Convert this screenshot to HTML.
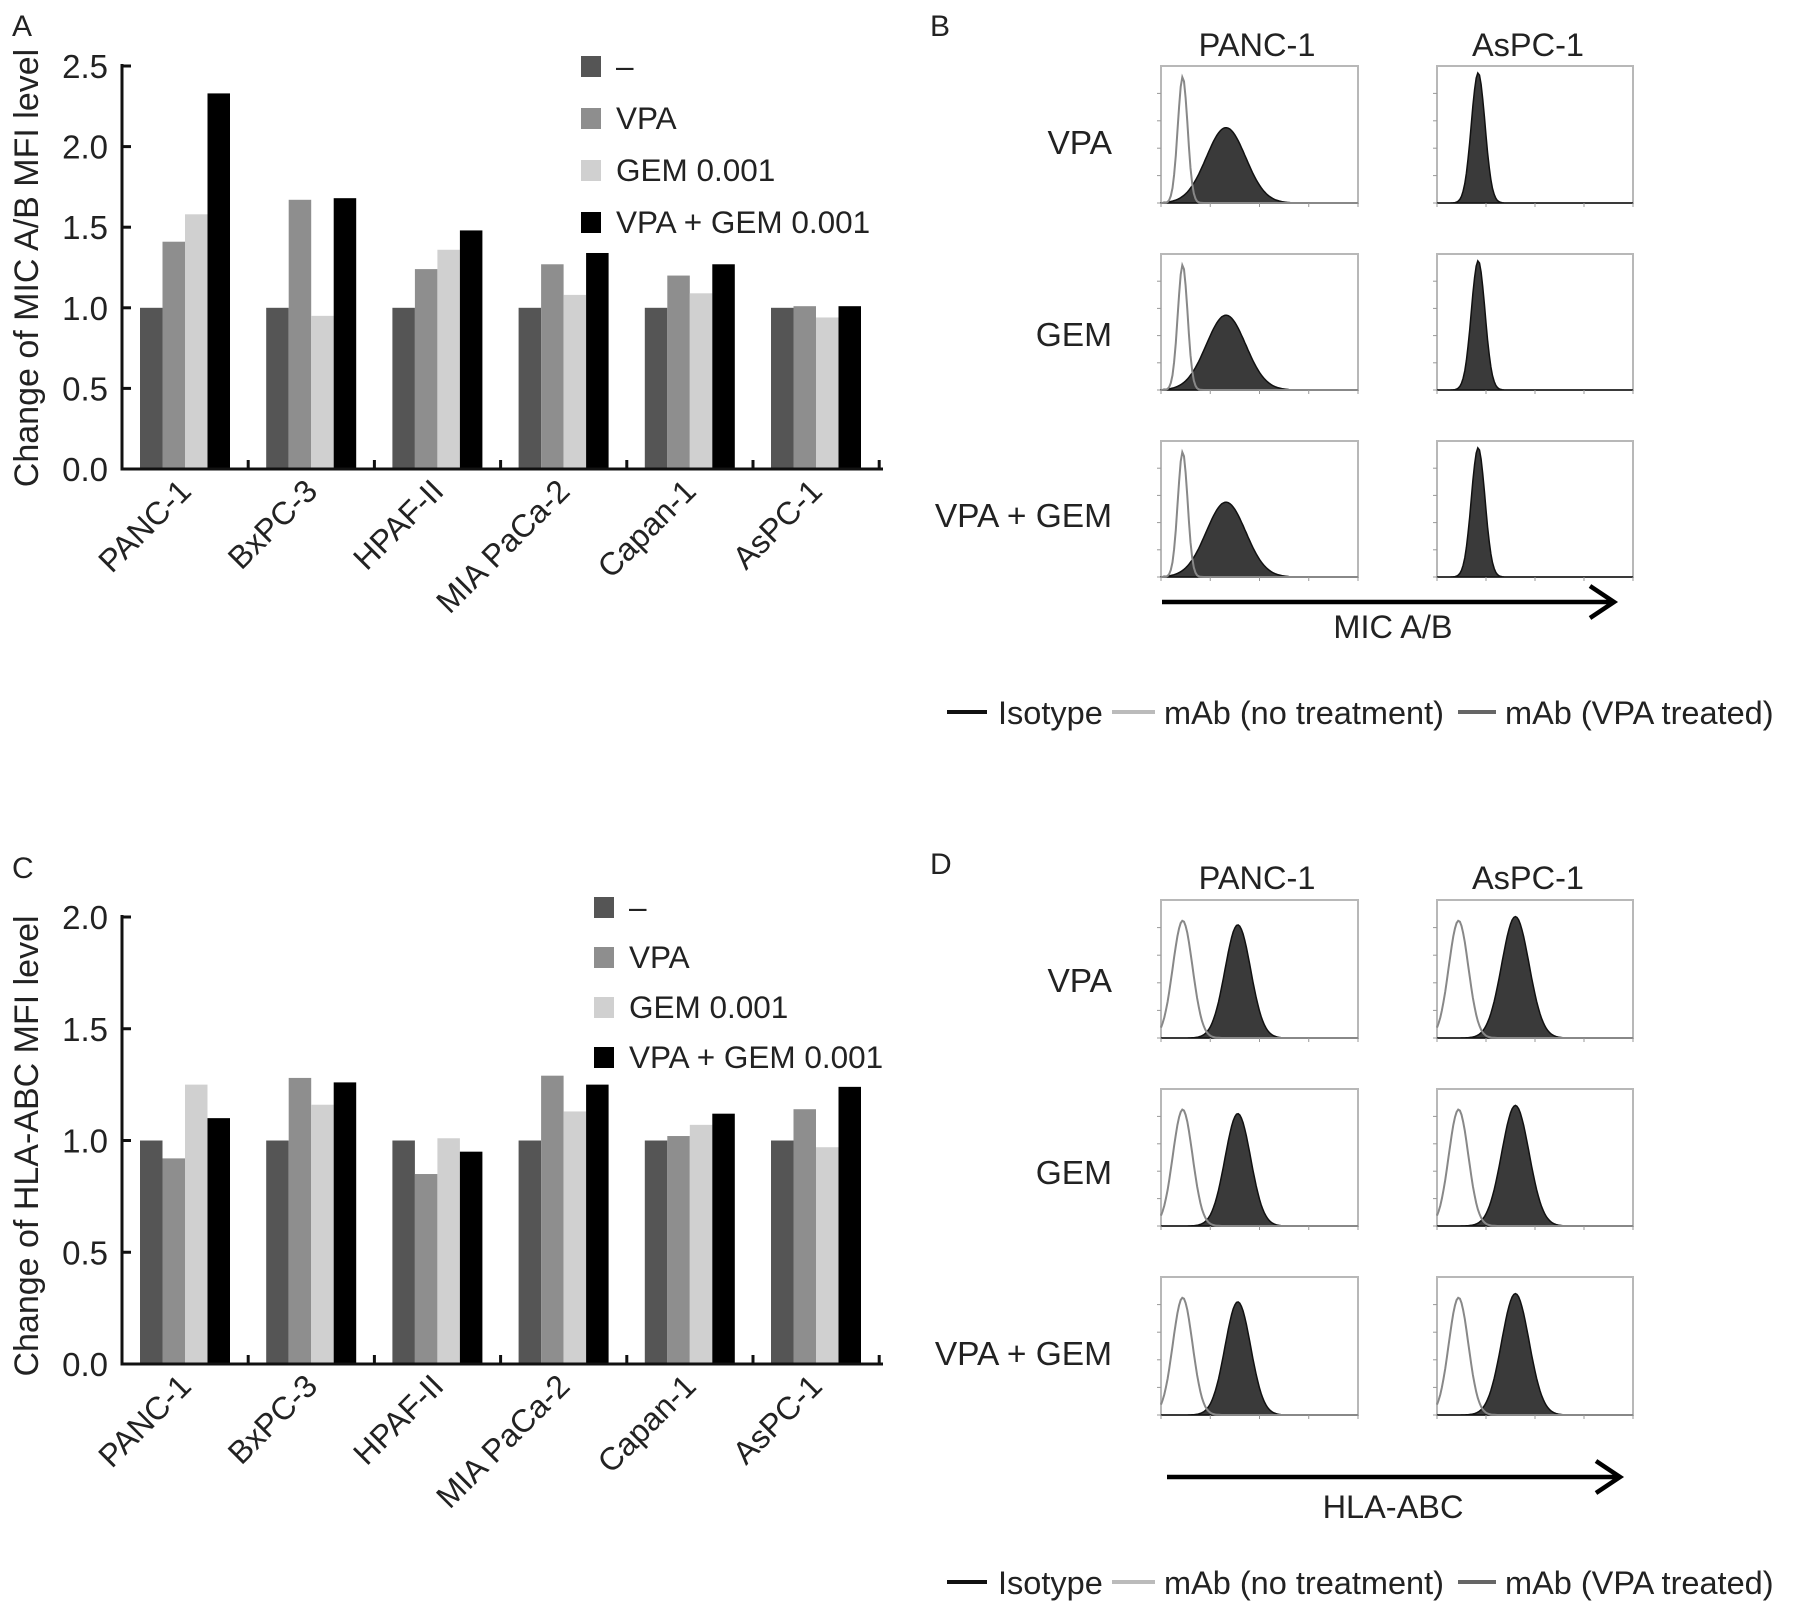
<!DOCTYPE html>
<html><head><meta charset="utf-8">
<style>
html,body{margin:0;padding:0;background:#fff;}
svg{display:block;font-family:"Liberation Sans",Arial,sans-serif;}
</style></head>
<body>
<svg id="fig" width="1793" height="1608" viewBox="0 0 1793 1608" xmlns="http://www.w3.org/2000/svg">
<rect width="1793" height="1608" fill="#fff"/>
</svg>
<script>
const categories = ["PANC-1","BxPC-3","HPAF-II","MIA PaCa-2","Capan-1","AsPC-1"];
const seriesNames = ["–","VPA","GEM 0.001","VPA + GEM 0.001"];
const seriesColors = ["#555555","#8e8e8e","#d0d0d0","#000000"];
const micNone = [1.0,1.0,1.0,1.0,1.0,1.0];
const micVPA = [1.41,1.67,1.24,1.27,1.20,1.01];
const micGEM = [1.58,0.95,1.36,1.08,1.09,0.94];
const micCombo = [2.33,1.68,1.48,1.34,1.27,1.01];
const micTicks = ["0.0","0.5","1.0","1.5","2.0","2.5"];
const hlaNone = [1.0,1.0,1.0,1.0,1.0,1.0];
const hlaVPA = [0.92,1.28,0.85,1.29,1.02,1.14];
const hlaGEM = [1.25,1.16,1.01,1.13,1.07,0.97];
const hlaCombo = [1.10,1.26,0.95,1.25,1.12,1.24];
const hlaTicks = ["0.0","0.5","1.0","1.5","2.0"];
// histogram peaks: [position fraction, width fraction, height fraction]
const micPancIso = [0.11,0.025,0.92];
const micPancFill = [0.33,0.1,0.55];
const micAspcFill = [0.21,0.035,0.95];
const hlaIso = [0.11,0.05,0.85];
const hlaPancFill = [0.39,0.065,0.82];
const hlaAspcFill = [0.4,0.07,0.88];

const NS="http://www.w3.org/2000/svg";
const svg=document.getElementById('fig');
function el(tag,attrs,parent){const e=document.createElementNS(NS,tag);for(const k in attrs)e.setAttribute(k,attrs[k]);(parent||svg).appendChild(e);return e;}
function txt(s,attrs,parent){const e=el('text',attrs,parent);e.textContent=s;return e;}

function barChart(cfg){
  const g=el('g',{});
  
  
  const x0=122,x1=883,y0=cfg.y0,yTop=cfg.yTop,maxV=cfg.max;
  const yS=v=>y0-(v/maxV)*(y0-yTop);
  const groupW=126.2,barW=22.5,firstX=140;
  const xS=(i,s)=>firstX+i*groupW+s*barW;
  cfg.series.forEach((vals,s)=>{
    vals.forEach((v,i)=>{
      const r=el('rect',{x:xS(i,s),y:yS(v),width:barW,height:y0-yS(v),fill:seriesColors[s]},g);
      
      
    });
  });
  const ax=el('path',{d:`M${x0} ${yTop-2}V${y0}H${x1}`,stroke:'#111','stroke-width':3,fill:'none'},g);
  
  
  cfg.ticks.forEach(t=>{
    const v=parseFloat(t),y=yS(v);
    el('line',{x1:x0,x2:x0+9,y1:y,y2:y,stroke:'#111','stroke-width':3},g);
    const tl=txt(t,{x:108,y:y+12,'text-anchor':'end','font-size':33,fill:'#222'},g);
    
    
  });
  for(let i=1;i<=categories.length;i++){
    const x=firstX+i*groupW-18;
    el('line',{x1:x,x2:x,y1:y0,y2:y0-9,stroke:'#111','stroke-width':3},g);
  }
  categories.forEach((c,i)=>{
    const cx=firstX+i*groupW+45+8, cy=y0+24;
    const t=txt(c,{x:cx,y:cy,'text-anchor':'end','font-size':32,fill:'#222',transform:`rotate(-45 ${cx} ${cy})`},g);
    
    
  });
  const yl=txt(cfg.ylabel,{x:0,y:0,'text-anchor':'middle','font-size':34,fill:'#222',transform:`translate(38 ${cfg.ylabelY}) rotate(-90)`},g);
  
  
  seriesNames.forEach((n,s)=>{
    const ly=cfg.legY+s*cfg.legStep;
    const lg=el('g',{},g);
    
    
    el('rect',{x:cfg.legX,y:ly-10,width:20,height:21,fill:seriesColors[s]},lg);
    txt(n,{x:cfg.legX+35,y:ly+11,'font-size':31.5,fill:'#222'},lg);
  });
  const pl=txt(cfg.panel,{x:12,y:cfg.panelY,'font-size':30,fill:'#222'},g);
  
  
}

barChart({name:'chart-mic',y0:469,yTop:66,max:2.5,series:[micNone,micVPA,micGEM,micCombo],ticks:micTicks,
  ylabel:'Change of MIC A/B MFI level',ylabelY:268,legX:581,legY:66,legStep:52,panel:'A',panelY:36});
barChart({name:'chart-hla',y0:1364,yTop:917,max:2.0,series:[hlaNone,hlaVPA,hlaGEM,hlaCombo],ticks:hlaTicks,
  ylabel:'Change of HLA-ABC MFI level',ylabelY:1146,legX:594,legY:907,legStep:50,panel:'C',panelY:878});

function gaussPath(x,y,w,h,p,close){
  const [c,sd,ht]=p;let d='';
  for(let k=0;k<=120;k++){
    const f=k/120, v=Math.exp(-Math.pow((f-c)/sd,2)/2)*ht;
    const px=x+f*w, py=y+h-v*h;
    d+=(k?'L':'M')+px.toFixed(1)+' '+py.toFixed(1);
  }
  if(close)d+=`L${x+w} ${y+h}L${x} ${y+h}Z`;
  return d;
}
function histBox(x,y,w,h,iso,fill,name){
  const g=el('g',{});
  
  
  el('rect',{x:x,y:y,width:w,height:h,fill:'#fff',stroke:'#b8b8b8','stroke-width':2},g);
  if(fill)el('path',{d:gaussPath(x,y,w,h,fill,true),fill:'#3a3a3a',stroke:'#111','stroke-width':1.5},g);
  if(iso)el('path',{d:gaussPath(x,y,w,h,iso,false),fill:'none',stroke:'#888','stroke-width':2},g);
  for(let k=0;k<5;k++){el('line',{x1:x-4,x2:x,y1:y+h-k*h/5,y2:y+h-k*h/5,stroke:'#999','stroke-width':1},g);}
  for(let k=0;k<5;k++){el('line',{x1:x+k*w/4,x2:x+k*w/4,y1:y+h,y2:y+h+4,stroke:'#999','stroke-width':1},g);}
}
function flowPanel(cfg){
  const pl=txt(cfg.panel,{x:930,y:cfg.panelY,'font-size':30,fill:'#222'});
  
  
  [['PANC-1',1257],['AsPC-1',1528]].forEach(([t,cx])=>{
    const e=txt(t,{x:cx,y:cfg.titleY+12,'text-anchor':'middle','font-size':32.5,fill:'#222'});
    
    
  });
  ['VPA','GEM','VPA + GEM'].forEach((r,i)=>{
    const [by,bh]=cfg.rows[i];
    const e=txt(r,{x:1112,y:cfg.labelY[i]+12,'text-anchor':'end','font-size':33.5,fill:'#222'});
    
    
    histBox(1161,by,197,bh,cfg.pancIso,cfg.pancFill,'histogram-panc1-'+i);
    histBox(1437,by,196,bh,cfg.aspcIso,cfg.aspcFill,'histogram-aspc1-'+i);
  });
  const a=el('path',{d:`M${cfg.ax0} ${cfg.arrowY}H${cfg.ax1}M${cfg.ax1-24} ${cfg.arrowY-16}L${cfg.ax1} ${cfg.arrowY}L${cfg.ax1-24} ${cfg.arrowY+16}`,stroke:'#000','stroke-width':4.5,fill:'none'});
  
  
  const xl=txt(cfg.xlabel,{x:1393,y:cfg.xlabelY+12,'text-anchor':'middle','font-size':32.5,fill:'#222'});
  
  
  const lg=el('g',{});
  
  
  const ly=cfg.legY;
  el('line',{x1:947,x2:987,y1:ly,y2:ly,stroke:'#111','stroke-width':4},lg);
  txt('Isotype',{x:998,y:ly+12,'font-size':32.5,fill:'#222'},lg);
  el('line',{x1:1112,x2:1155,y1:ly,y2:ly,stroke:'#bbb','stroke-width':4},lg);
  txt('mAb (no treatment)',{x:1164,y:ly+12,'font-size':32.5,fill:'#222'},lg);
  el('line',{x1:1458,x2:1496,y1:ly,y2:ly,stroke:'#666','stroke-width':4},lg);
  txt('mAb (VPA treated)',{x:1505,y:ly+12,'font-size':32.5,fill:'#222'},lg);
}
flowPanel({panel:'B',panelY:36,titleY:44,rows:[[66,137],[254,136],[441,136]],labelY:[142,334,515],
  pancIso:micPancIso,pancFill:micPancFill,aspcIso:null,aspcFill:micAspcFill,
  ax0:1162,ax1:1614,arrowY:602,xlabel:'MIC A/B',xlabelY:626,legY:712});
flowPanel({panel:'D',panelY:874,titleY:877,rows:[[900,138],[1089,137],[1277,138]],labelY:[980,1172,1353],
  pancIso:hlaIso,pancFill:hlaPancFill,aspcIso:hlaIso,aspcFill:hlaAspcFill,
  ax0:1167,ax1:1620,arrowY:1477,xlabel:'HLA-ABC',xlabelY:1506,legY:1582});
</script>
</body></html>
